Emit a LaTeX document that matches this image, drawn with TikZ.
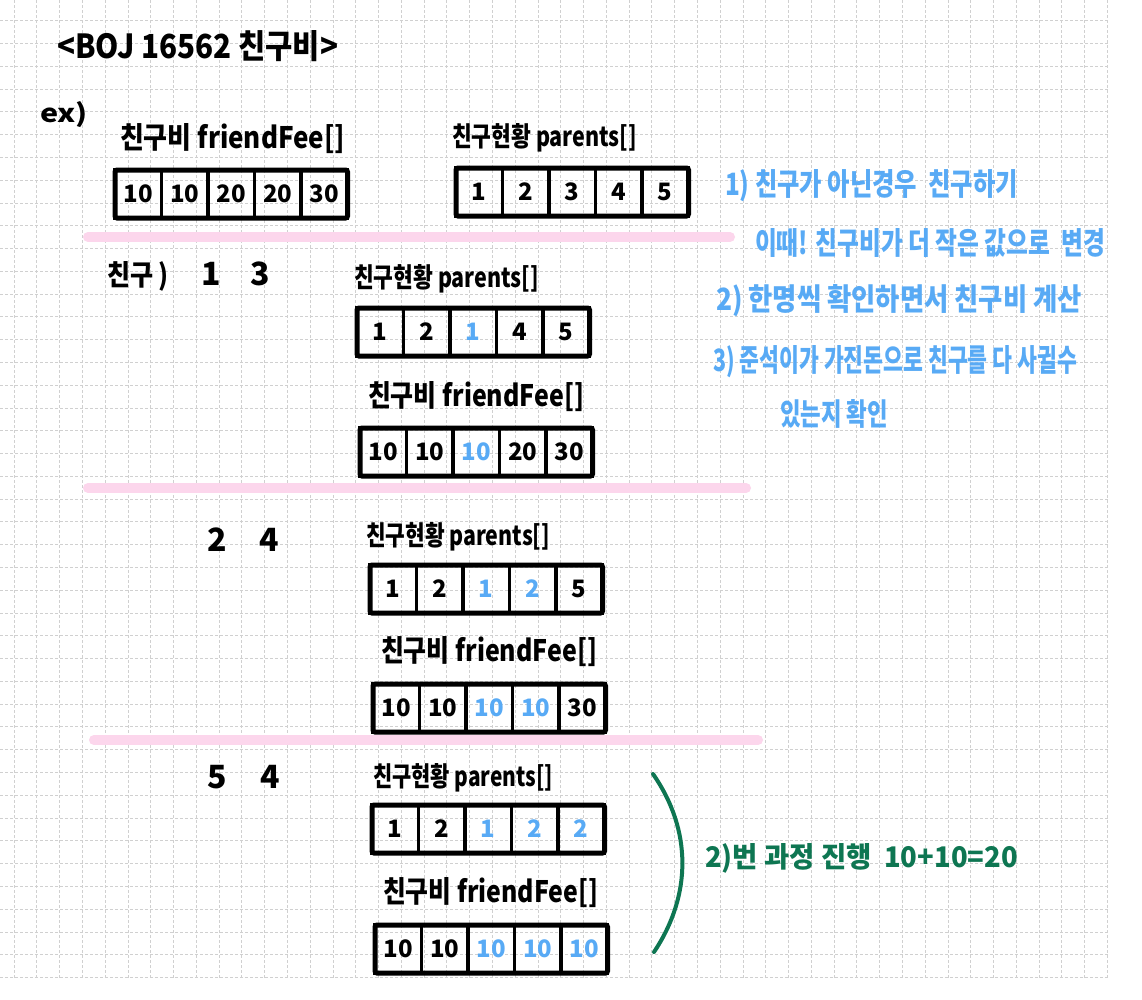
\documentclass[tikz,border=0pt]{standalone}
\usepackage{fontspec}
\usepackage{graphicx}
\setmainfont{Noto Sans CJK KR}
\definecolor{hblue}{RGB}{88,170,245}
\definecolor{hpink}{RGB}{252,214,236}
\definecolor{hgreen}{RGB}{14,118,82}
\definecolor{hgrid}{RGB}{208,208,208}
\newcommand\fitt[3]{\resizebox{#1pt}{#2pt}{\bfseries #3}}
\tikzset{
  gridline/.style={draw=hgrid, line width=0.8pt, dash pattern=on 3pt off 2pt},
  cell/.style={draw=black, line width=3.5pt, minimum width=46.5pt, minimum height=48pt, inner sep=0pt, outer sep=0pt, font=\bfseries\fontsize{24}{24}\selectfont},
  frame/.style={draw=black, line width=5pt, rounded corners=2pt},
  lbl/.style={anchor=base west, inner sep=0pt, outer sep=0pt},
  digit/.style={anchor=base, inner sep=0pt, font=\bfseries\fontsize{32}{32}\selectfont},
  sepline/.style={draw=hpink, line width=10pt, line cap=round},
  bracearc/.style={draw=hgreen, line width=4pt, line cap=round},
}
\newcommand\arr[4]{%
  \foreach \v/\c [count=\i] in {#4} {
    \node[cell, text=\c] (#1\i) at ({#2+23.25+46.5*(\i-1)}, {#3+24}) {\v};
  }
  \draw[frame] (#11.north west) rectangle (#15.south east);
}
\begin{document}
\begin{tikzpicture}[x=1pt,y=-1pt]
\useasboundingbox (0,0) rectangle (1142,999);
\fill[white] (0,0) rectangle (1142,999);
% grid
\foreach \k in {0,...,48} \draw[gridline] ({14+22.78*\k},0) -- ({14+22.78*\k},979);
\foreach \k in {0,...,42} \draw[gridline] (0,{20.7+22.78*\k}) -- (1108,{20.7+22.78*\k});
% separators
\coordinate (s1a) at (88,237); \coordinate (s1b) at (730,237);
\coordinate (s2a) at (88,488); \coordinate (s2b) at (746,488);
\coordinate (s3a) at (94,740); \coordinate (s3b) at (758,740);
\draw[sepline] (s1a) -- (s1b);
\draw[sepline] (s2a) -- (s2b);
\draw[sepline] (s3a) -- (s3b);
% title
\node[lbl] (title) at (57,58) {\fitt{281}{28}{<BOJ 16562 친구비>}};
\node[lbl] (ex) at (40,122) {\fitt{48}{21}{ex)}};
% row 0
\node[lbl] (l0f) at (120,148) {\fitt{225}{25}{친구비 friendFee[]}};
\node[lbl] (l0p) at (452,146) {\fitt{185}{23}{친구현황 parents[]}};
\arr{af}{115}{170}{10/black,10/black,20/black,20/black,30/black}
\arr{ap}{456}{168}{1/black,2/black,3/black,4/black,5/black}
% blue notes
\node[lbl, text=hblue] (n1) at (725,195) {\fitt{293}{26}{1) 친구가 아닌경우~~친구하기}};
\node[lbl, text=hblue] (n2) at (755,254) {\fitt{350}{26}{이때! 친구비가 더 작은 값으로~~변경}};
\node[lbl, text=hblue] (n3) at (716,310) {\fitt{366}{26}{2) 한명씩 확인하면서 친구비 계산}};
\node[lbl, text=hblue] (n4) at (713,371) {\fitt{364}{26}{3) 준석이가 가진돈으로 친구를 다 사귈수}};
\node[lbl, text=hblue] (n5) at (780,425) {\fitt{108}{26}{있는지 확인}};
% row 1
\node[lbl] (r1) at (107,285) {\fitt{62}{24}{친구 )}};
\node[digit] (r1a) at (211,285) {1};
\node[digit] (r1b) at (260,285) {3};
\node[lbl] (l1p) at (354,287) {\fitt{185}{23}{친구현황 parents[]}};
\arr{bp}{357}{308}{1/black,2/black,1/hblue,4/black,5/black}
\node[lbl] (l1f) at (368,406) {\fitt{216}{25}{친구비 friendFee[]}};
\arr{bf}{360}{428}{10/black,10/black,10/hblue,20/black,30/black}
% row 2
\node[digit] (r2a) at (217,551) {2};
\node[digit] (r2b) at (269,551) {4};
\node[lbl] (l2p) at (366,545) {\fitt{184}{23}{친구현황 parents[]}};
\arr{cp}{370}{565}{1/black,2/black,1/hblue,2/hblue,5/black}
\node[lbl] (l2f) at (381,661) {\fitt{216}{25}{친구비 friendFee[]}};
\arr{cf}{373}{684}{10/black,10/black,10/hblue,10/hblue,30/black}
% row 3
\node[digit] (r3a) at (217,788) {5};
\node[digit] (r3b) at (270,788) {4};
\node[lbl] (l3p) at (373,786) {\fitt{180}{23}{친구현황 parents[]}};
\arr{dp}{372}{805}{1/black,2/black,1/hblue,2/hblue,2/hblue}
\node[lbl] (l3f) at (383,902) {\fitt{215}{25}{친구비 friendFee[]}};
\arr{df}{375}{925}{10/black,10/black,10/hblue,10/hblue,10/hblue}
% green brace and note
\coordinate (g1) at (653,774);
\coordinate (g2) at (654,952);
\draw[bracearc] (g1) .. controls (692,830) and (692,895) .. (g2);
\node[lbl, text=hgreen] (gn) at (705,867) {\fitt{313}{24}{2)번 과정 진행~~10+10=20}};
\end{tikzpicture}
\end{document}
